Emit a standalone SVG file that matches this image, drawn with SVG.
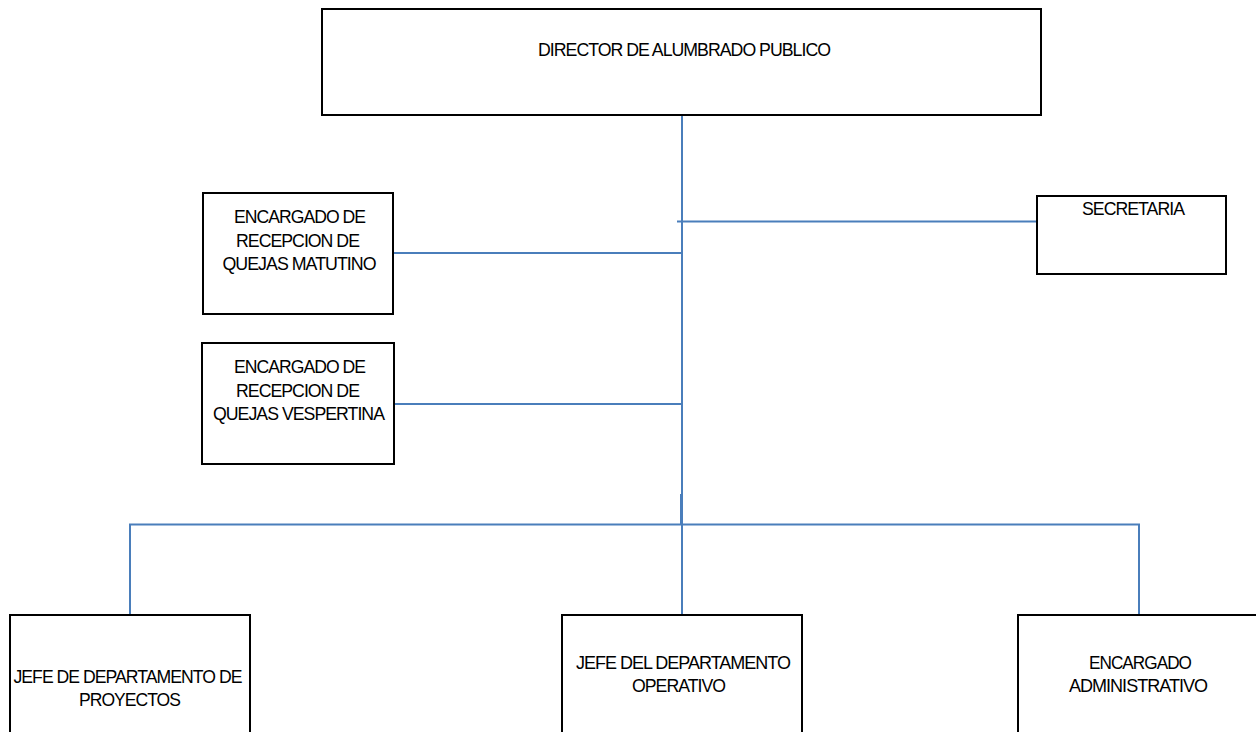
<svg xmlns="http://www.w3.org/2000/svg" width="1256" height="732" viewBox="0 0 1256 732">
<style>
.box{fill:#fff;stroke:#000;stroke-width:2}
.t{font-family:"Liberation Sans",Arial,sans-serif;font-size:18px;letter-spacing:-1px;fill:#000}
.c{stroke:#4A7EBB;stroke-width:2;fill:none}
</style>
<rect width="1256" height="732" fill="#fff"/>
<g id="connectors">
<line class="c" x1="682" y1="115" x2="682" y2="615"/>
<line class="c" x1="681" y1="494" x2="681" y2="524"/>
<line class="c" x1="677" y1="221.5" x2="1037" y2="221.5"/>
<line class="c" x1="393" y1="253" x2="682" y2="253"/>
<line class="c" x1="394" y1="404" x2="682" y2="404"/>
<polyline class="c" points="130,615 130,524.5 1139,524.5 1139,615"/>
</g>
<g id="director">
<rect class="box" x="322" y="9" width="719" height="106"/>
<text class="t" x="538" y="56" textLength="292" lengthAdjust="spacingAndGlyphs">DIRECTOR DE ALUMBRADO PUBLICO</text>
</g>
<g id="secretaria">
<rect class="box" x="1037" y="196" width="189" height="78"/>
<text class="t" x="1082" y="215" textLength="102" lengthAdjust="spacingAndGlyphs">SECRETARIA</text>
</g>
<g id="matutino">
<rect class="box" x="203" y="193" width="190" height="121"/>
<text class="t" x="234" y="223" textLength="131" lengthAdjust="spacingAndGlyphs">ENCARGADO DE</text>
<text class="t" x="236" y="246.5" textLength="123" lengthAdjust="spacingAndGlyphs">RECEPCION DE</text>
<text class="t" x="222.5" y="270" textLength="153" lengthAdjust="spacingAndGlyphs">QUEJAS MATUTINO</text>
</g>
<g id="vespertina">
<rect class="box" x="202" y="343" width="192" height="121"/>
<text class="t" x="234" y="373" textLength="131" lengthAdjust="spacingAndGlyphs">ENCARGADO DE</text>
<text class="t" x="236" y="396.5" textLength="123" lengthAdjust="spacingAndGlyphs">RECEPCION DE</text>
<text class="t" x="213" y="420" textLength="171" lengthAdjust="spacingAndGlyphs">QUEJAS VESPERTINA</text>
</g>
<g id="proyectos">
<rect class="box" x="10" y="615" width="240" height="130"/>
<text class="t" x="13.5" y="682.5" textLength="228" lengthAdjust="spacingAndGlyphs">JEFE DE DEPARTAMENTO DE</text>
<text class="t" x="79" y="706" textLength="101" lengthAdjust="spacingAndGlyphs">PROYECTOS</text>
</g>
<g id="operativo">
<rect class="box" x="562" y="615" width="240" height="130"/>
<text class="t" x="576" y="668.5" textLength="214" lengthAdjust="spacingAndGlyphs">JEFE DEL DEPARTAMENTO</text>
<text class="t" x="632" y="692" textLength="93" lengthAdjust="spacingAndGlyphs">OPERATIVO</text>
</g>
<g id="administrativo">
<rect class="box" x="1018" y="615" width="245" height="130"/>
<text class="t" x="1089" y="668.5" textLength="102" lengthAdjust="spacingAndGlyphs">ENCARGADO</text>
<text class="t" x="1069" y="692" textLength="138" lengthAdjust="spacingAndGlyphs">ADMINISTRATIVO</text>
</g>
</svg>
